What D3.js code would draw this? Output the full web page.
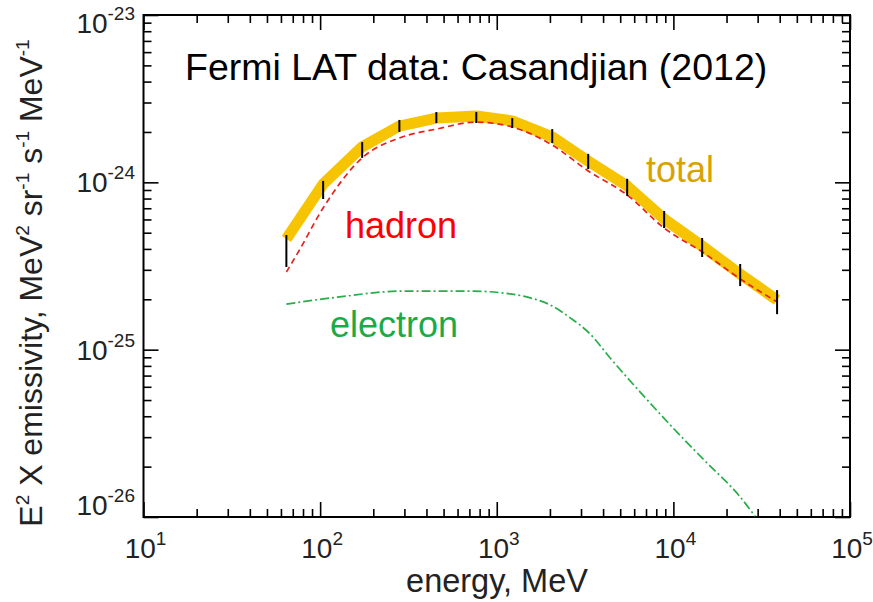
<!DOCTYPE html>
<html>
<head>
<meta charset="utf-8">
<script src="https://cdn.jsdelivr.net/npm/d3@7"></script>
<style>
  html, body { margin: 0; padding: 0; background: #fff; }
  svg { display: block; font-family: "Liberation Sans", Arial, Helvetica, sans-serif; }
</style>
</head>
<body>
<svg id="chart" width="873" height="602"></svg>
<script>
// ---- data ----
const dataEnergy = [64.4, 104, 173, 281, 455, 766, 1224, 2061, 3294, 5475, 8865, 14550, 23890, 38650];
const dataLow  = [3.12e-25, 7.95e-25, 1.40e-24, 2.00e-24, 2.26e-24, 2.26e-24, 2.11e-24, 1.72e-24, 1.20e-24, 8.29e-25, 5.33e-25, 3.58e-25, 2.40e-25, 1.63e-25];
const dataHigh = [4.84e-25, 1.02e-24, 1.74e-24, 2.36e-24, 2.63e-24, 2.63e-24, 2.42e-24, 2.08e-24, 1.48e-24, 1.05e-24, 6.74e-25, 4.65e-25, 3.25e-25, 2.27e-25];
const totalValues = [4.59e-25, 9.77e-25, 1.63e-24, 2.17e-24, 2.42e-24, 2.49e-24, 2.33e-24, 1.87e-24, 1.34e-24, 9.51e-25, 6.04e-25, 4.16e-25, 2.83e-25, 1.98e-25];

const hadronEnergy = [64.4, 75.3, 104, 173, 281, 455, 766, 1224, 2061, 3294, 5475, 8865, 14550, 23890, 38650];
const hadronValues = [2.91e-25, 3.84e-25, 7.03e-25, 1.40e-24, 1.84e-24, 2.08e-24, 2.29e-24, 2.14e-24, 1.67e-24, 1.17e-24, 8.40e-25, 5.33e-25, 3.84e-25, 2.65e-25, 1.93e-25];

const electronEnergy = [64.4, 125, 296, 708, 1089, 1549, 2008, 2605, 3381, 4385, 6486, 9968, 15120, 23860, 29010];
const electronValues = [1.87e-25, 2.06e-25, 2.24e-25, 2.24e-25, 2.18e-25, 2.04e-25, 1.85e-25, 1.55e-25, 1.24e-25, 8.92e-26, 5.58e-26, 3.40e-26, 2.16e-26, 1.32e-26, 1.01e-26];

const xMajorTicks = [10, 100, 1000, 10000, 100000];
const xTickExponents = ["1", "2", "3", "4", "5"];
const yMajorTicks = [1e-23, 1e-24, 1e-25, 1e-26];
const yTickExponents = ["-23", "-24", "-25", "-26"];

// ---- layout ----
const svg = d3.select("#chart");
const L = 143.5, R = 850, T = 15, B = 517;
const x = d3.scaleLog().domain([10, 1e5]).range([L, R]);
const y = d3.scaleLog().domain([1e-23, 1e-26]).range([T, B]);

function minors(lo, hi) {
  const out = [];
  for (let p = lo; p < hi; p++) {
    for (let k = 2; k <= 9; k++) out.push(k * Math.pow(10, p));
  }
  return out;
}
const xMinor = minors(1, 5);
const yMinor = minors(-26, -23);

// ---- axes ticks (inward, all four sides) ----
function addAxis(axis, transform) {
  const g = svg.append("g").attr("transform", transform).call(axis);
  g.select(".domain").remove();
  g.selectAll("line").attr("stroke", "#000").attr("stroke-width", 1.6);
  g.selectAll("text").remove();
}
addAxis(d3.axisBottom(x).tickValues(xMajorTicks).tickSize(-15).tickFormat(""), `translate(0,${B})`);
addAxis(d3.axisBottom(x).tickValues(xMinor).tickSize(-8).tickFormat(""), `translate(0,${B})`);
addAxis(d3.axisTop(x).tickValues(xMajorTicks).tickSize(-15).tickFormat(""), `translate(0,${T})`);
addAxis(d3.axisTop(x).tickValues(xMinor).tickSize(-8).tickFormat(""), `translate(0,${T})`);
addAxis(d3.axisLeft(y).tickValues(yMajorTicks).tickSize(-15).tickFormat(""), `translate(${L},0)`);
addAxis(d3.axisLeft(y).tickValues(yMinor).tickSize(-8).tickFormat(""), `translate(${L},0)`);
addAxis(d3.axisRight(y).tickValues(yMajorTicks).tickSize(-15).tickFormat(""), `translate(${R},0)`);
addAxis(d3.axisRight(y).tickValues(yMinor).tickSize(-8).tickFormat(""), `translate(${R},0)`);

svg.append("rect")
  .attr("x", L).attr("y", T).attr("width", R - L).attr("height", B - T)
  .attr("fill", "none").attr("stroke", "#000").attr("stroke-width", 2);

// ---- tick labels ----
xMajorTicks.forEach((v, i) => {
  const t = svg.append("text")
    .attr("x", x(v) + 2).attr("y", 558)
    .attr("text-anchor", "middle")
    .attr("font-size", 28).attr("fill", "#222");
  t.append("tspan").text("10");
  t.append("tspan").attr("dy", -13).attr("font-size", 19).text(xTickExponents[i]);
});
yMajorTicks.forEach((v, i) => {
  const base = Math.max(33, Math.min(515, y(v) + 10));
  const t = svg.append("text")
    .attr("x", 135).attr("y", base)
    .attr("text-anchor", "end")
    .attr("font-size", 28).attr("fill", "#222");
  t.append("tspan").text("10");
  t.append("tspan").attr("dy", -13).attr("font-size", 19).text(yTickExponents[i]);
});

// ---- axis titles ----
svg.append("text")
  .attr("x", 497).attr("y", 592)
  .attr("text-anchor", "middle")
  .attr("font-size", 32.5).attr("fill", "#222")
  .text("energy, MeV");

const yl = svg.append("text")
  .attr("transform", "translate(42,283) rotate(-90)")
  .attr("text-anchor", "middle")
  .attr("font-size", 32).attr("fill", "#222");
const ylParts = [["E", "2"], [" X emissivity, MeV", "2"], [" sr", "-1"], [" s", "-1"], [" MeV", "-1"]];
let shifted = false;
ylParts.forEach(([txt, sup]) => {
  const a = yl.append("tspan").text(txt);
  if (shifted) a.attr("dy", 13);
  yl.append("tspan").attr("dy", -13).attr("font-size", 19).text(sup);
  shifted = true;
});

// ---- curves ----
const line = d3.line().x(d => x(d[0])).y(d => y(d[1]));

svg.append("path")
  .datum(dataEnergy.map((e, i) => [e, totalValues[i]]))
  .attr("d", line)
  .attr("fill", "none").attr("stroke", "#f6c400")
  .attr("stroke-width", 11).attr("stroke-linejoin", "round");

svg.append("path")
  .datum(hadronEnergy.map((e, i) => [e, hadronValues[i]]))
  .attr("d", line.curve(d3.curveMonotoneX))
  .attr("fill", "none").attr("stroke", "#e4231c")
  .attr("stroke-width", 1.7).attr("stroke-dasharray", "6,4");

svg.append("path")
  .datum(electronEnergy.map((e, i) => [e, electronValues[i]]))
  .attr("d", line.curve(d3.curveMonotoneX))
  .attr("fill", "none").attr("stroke", "#27ad4a")
  .attr("stroke-width", 1.7).attr("stroke-dasharray", "9,3,2,3");

// ---- error bars ----
svg.append("g").selectAll("line")
  .data(dataEnergy.map((e, i) => [e, dataLow[i], dataHigh[i]]))
  .join("line")
  .attr("x1", d => x(d[0])).attr("x2", d => x(d[0]))
  .attr("y1", d => y(d[1])).attr("y2", d => y(d[2]))
  .attr("stroke", "#000").attr("stroke-width", 2);

// ---- annotations ----
svg.append("text").attr("x", 185).attr("y", 80)
  .attr("font-size", 37.5).attr("fill", "#000")
  .text("Fermi LAT data: Casandjian (2012)");
svg.append("text").attr("x", 646).attr("y", 182)
  .attr("font-size", 36).attr("fill", "#d8a300").text("total");
svg.append("text").attr("x", 345).attr("y", 238)
  .attr("font-size", 36).attr("fill", "#ff0000").text("hadron");
svg.append("text").attr("x", 330).attr("y", 337)
  .attr("font-size", 36).attr("fill", "#1aab47").text("electron");
</script>
</body>
</html>
